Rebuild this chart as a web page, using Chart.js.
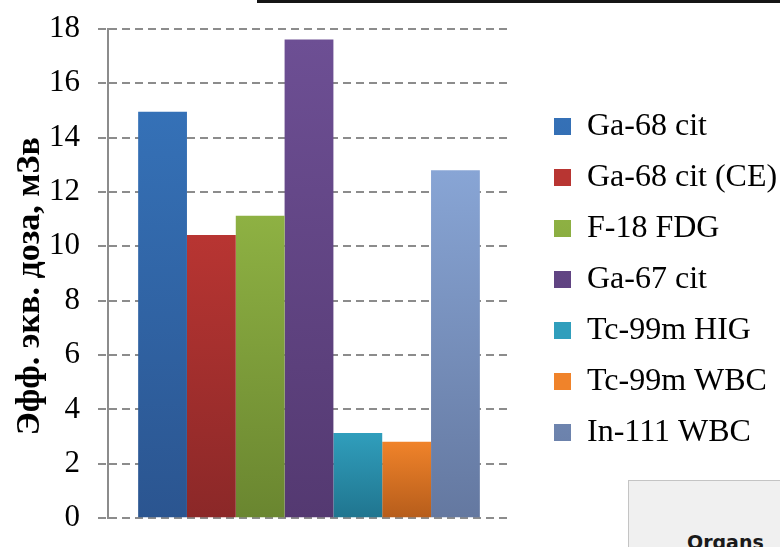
<!DOCTYPE html>
<html>
<head>
<meta charset="utf-8">
<script src="https://cdn.jsdelivr.net/npm/chart.js@4/dist/chart.umd.min.js"></script>
<style>
  html, body { margin: 0; padding: 0; background: #fff; }
  #wrap { position: relative; width: 780px; height: 547px; overflow: hidden; }
  #chartBox { position: absolute; left: 0; top: 0; width: 780px; height: 547px; }
  /* rule above the chart and the table panel in the corner */
  #topRule { position: absolute; left: 257px; top: 0; width: 523px; height: 3px; background: #151515; }
  #organsPanel {
    position: absolute; left: 628px; top: 480px; width: 170px; height: 90px;
    box-sizing: border-box; border: 1px solid #c4c4c4; background: #f0f0f0;
    font: bold 19px "DejaVu Sans", sans-serif; color: #1a1a1a;
  }
  #organsPanel span { position: absolute; left: 58px; top: 50px; }
</style>
</head>
<body>
<div id="wrap">
  <div id="chartBox"><canvas id="doseChart"></canvas></div>
  <div id="topRule"></div>
  <div id="organsPanel"><span>Organs</span></div>
</div>
<script>
  const categories = [''];
  const isotopes = ['Ga-68 cit', 'Ga-68 cit (CE)', 'F-18 FDG', 'Ga-67 cit', 'Tc-99m HIG', 'Tc-99m WBC', 'In-111 WBC'];
  const doses = [14.95, 10.42, 11.12, 17.61, 3.13, 2.81, 12.8];
  // trailing no-break spaces lift the title's centre a little
  const yTitle = 'Эфф. экв. доза, мЗв' + '\u00a0'.repeat(3);

  // gradient ends for each bar (top, bottom)
  const topColors = ['#3571b7', '#b83532', '#8eb143', '#6d4f94', '#309ebc', '#f0832a', '#88a5d5'];
  const bottomColors = ['#2b5590', '#8b2828', '#6a8630', '#543971', '#20758f', '#b65d1b', '#6478a0'];

  const serif = '"Liberation Serif", "Times New Roman", serif';

  function barFill(i) {
    return (ctx) => {
      const chart = ctx.chart;
      const y = chart.scales.y;
      if (!chart.chartArea || !y || ctx.type !== 'data') return topColors[i];
      const top = y.getPixelForValue(doses[i]);
      const bottom = y.getPixelForValue(0);
      const g = chart.ctx.createLinearGradient(0, top, 0, bottom);
      g.addColorStop(0, topColors[i]);
      g.addColorStop(1, bottomColors[i]);
      return g;
    };
  }

  // legend column sits a bit right of the plot and runs to the canvas edge
  const legendNudge = {
    id: 'legendNudge',
    afterLayout(chart) {
      const lg = chart.legend;
      if (!lg) return;
      lg.left = chart.chartArea.right + 25;
      lg.right = chart.width;
      lg.width = lg.right - lg.left;
    }
  };

  const datasets = isotopes.map((name, i) => ({
    label: name,
    data: [doses[i]],
    backgroundColor: barFill(i),
    borderWidth: 0,
    categoryPercentage: 0.85,
    barPercentage: 1.0,
  }));

  new Chart(document.getElementById('doseChart'), {
    type: 'bar',
    data: { labels: categories, datasets },
    plugins: [legendNudge],
    options: {
      responsive: true,
      maintainAspectRatio: false,
      animation: false,
      layout: { padding: { top: 23, right: 100, bottom: 11, left: 0 } },
      plugins: {
        tooltip: { enabled: false },
        legend: {
          position: 'right',
          align: 'center',
          labels: {
            color: '#000',
            font: { family: serif, size: 32 },
            boxWidth: 17,
            boxHeight: 17,
            padding: 19,
          },
        },
      },
      scales: {
        x: { display: false },
        y: {
          min: 0,
          max: 18,
          ticks: {
            stepSize: 2,
            padding: 18,
            color: '#000',
            font: { family: serif, size: 31, lineHeight: 0.7 },
          },
          grid: {
            color: '#8c8c8c',
            lineWidth: 2,
            tickLength: 10,
            tickWidth: 2,
            tickColor: '#8c8c8c',
            tickBorderDash: [8, 5],
          },
          border: { color: '#8c8c8c', width: 2, dash: [8, 5] },
          title: {
            display: true,
            text: yTitle,
            color: '#000',
            font: { family: serif, size: 34, weight: 'bold', lineHeight: 1.2 },
            padding: { top: 10, bottom: 0 },
          },
          afterFit: (scale) => { scale.width = 108; },
        },
      },
    },
  });
</script>
</body>
</html>
